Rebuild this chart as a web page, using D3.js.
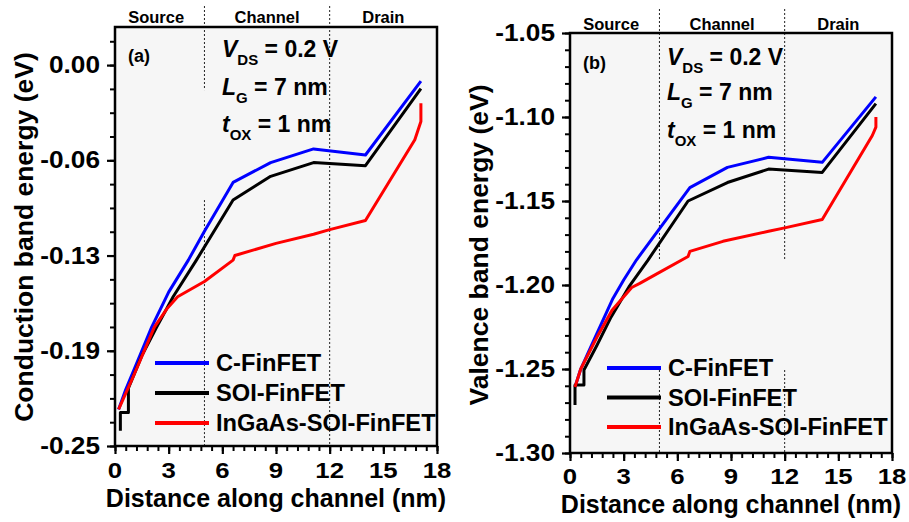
<!DOCTYPE html>
<html><head><meta charset="utf-8">
<script src="https://cdn.jsdelivr.net/npm/d3@7"></script>
<style>
body{margin:0;background:#fff}
text{font-family:"Liberation Sans",Arial,sans-serif;font-weight:bold;fill:#000}
</style>
</head><body>
<svg id="c" width="909" height="522"></svg>
<script>
// ---------- data ----------
const xTicks = [0, 3, 6, 9, 12, 15, 18];
const xTickLabels = ["0", "3", "6", "9", "12", "15", "18"];

const yTicksA = [0, -0.0625, -0.125, -0.1875, -0.25];
const yTickLabelsA = ["0.00", "-0.06", "-0.13", "-0.19", "-0.25"];
const yTicksB = [-1.05, -1.10, -1.15, -1.20, -1.25, -1.30];
const yTickLabelsB = ["-1.05", "-1.10", "-1.15", "-1.20", "-1.25", "-1.30"];

const seriesNames = ["C-FinFET", "SOI-FinFET", "InGaAs-SOI-FinFET"];
const seriesColors = ["#0000ff", "#000000", "#ff0000"];
const regionNames = ["Source", "Channel", "Drain"];
const regionCenters = [2.3, 8.5, 15];

// (a) conduction band energy (eV)
const cFinA = [[0.2,-0.226],[0.6,-0.213],[1.2,-0.196],[2.05,-0.172],[3.0,-0.149],[4.1,-0.128],[5.0,-0.109],[6.6,-0.077],[8.7,-0.064],[11.1,-0.055],[14.0,-0.059],[17.1,-0.0105]];
const soiA = [[0.3,-0.240],[0.3,-0.228],[0.75,-0.228],[0.75,-0.212],[1.49,-0.191],[2.33,-0.172],[3.25,-0.152],[4.55,-0.128],[6.6,-0.0886],[8.7,-0.073],[11.1,-0.064],[14.0,-0.066],[17.1,-0.0155]];
const ingaasA = [[0.2,-0.226],[1.0,-0.205],[2.2,-0.172],[2.9,-0.160],[3.5,-0.152],[5.0,-0.142],[6.6,-0.128],[6.7,-0.125],[9.0,-0.117],[11.1,-0.111],[12.0,-0.108],[14.0,-0.102],[16.76,-0.049],[17.1,-0.037],[17.1,-0.025]];

// (b) valence band energy (eV)
const cFinB = [[0.28,-1.2607],[0.6,-1.250],[1.2,-1.236],[1.8,-1.222],[2.4,-1.208],[3.0,-1.197],[3.72,-1.185],[6.7,-1.142],[8.8,-1.130],[11.1,-1.124],[14.1,-1.127],[17.1,-1.088]];
const soiB = [[0.28,-1.2714],[0.28,-1.2595],[0.78,-1.2595],[0.78,-1.2506],[1.5,-1.236],[2.3,-1.219],[3.3,-1.201],[4.37,-1.185],[6.6,-1.150],[8.8,-1.139],[11.1,-1.131],[14.1,-1.133],[17.1,-1.092]];
const ingaasB = [[0.28,-1.2607],[0.6,-1.250],[1.56,-1.230],[2.35,-1.215],[3.45,-1.2015],[3.9,-1.199],[4.75,-1.194],[6.6,-1.183],[6.7,-1.180],[8.55,-1.174],[11.1,-1.168],[12.0,-1.166],[14.1,-1.161],[16.9,-1.111],[17.1,-1.106],[17.1,-1.100]];

// dashed region boundary segments: [x, from value (null = above frame), to value]
const dashA = [[5, null, -0.0164], [5, -0.0886, -0.25], [12, null, -0.25]];
const dashB = [[5, null, -1.185], [5, -1.2506, -1.30], [12, null, -1.185], [12, -1.2506, -1.30]];

// ---------- drawing ----------
const svg = d3.select("#c");

function panel(cfg) {
  const g = svg.append("g");
  const x = d3.scaleLinear().domain([0, 18]).range([cfg.left, cfg.right]);
  const y = d3.scaleLinear().domain(cfg.yDomain).range([cfg.bottom, cfg.top]);

  g.append("rect").attr("x", cfg.left).attr("y", cfg.top)
    .attr("width", cfg.right - cfg.left).attr("height", cfg.bottom - cfg.top)
    .attr("fill", "#f6f6f6");

  // dashed boundaries
  cfg.dash.forEach(d => {
    g.append("line").attr("x1", x(d[0])).attr("x2", x(d[0]))
      .attr("y1", d[1] === null ? cfg.dashTop : y(d[1])).attr("y2", y(d[2]))
      .attr("stroke", "#222").attr("stroke-width", 1).attr("stroke-dasharray", "2,2");
  });

  // headers
  regionNames.forEach((n, i) => {
    g.append("text").attr("x", x(regionCenters[i])).attr("y", cfg.headerY)
      .attr("text-anchor", "middle").attr("font-size", 16.5).text(n);
  });

  // minor ticks
  const xMinor = d3.range(0, 18.001, 0.6);
  g.append("g").attr("transform", `translate(0,${cfg.bottom})`)
    .call(d3.axisBottom(x).tickValues(xMinor).tickSize(5).tickSizeOuter(0).tickFormat(""))
    .call(s => s.select(".domain").remove())
    .selectAll("line").attr("stroke-width", 2);
  const yMinor = d3.range(cfg.yDomain[0], cfg.yDomain[1] + 1e-9, cfg.minorStep);
  g.append("g").attr("transform", `translate(${cfg.left},0)`)
    .call(d3.axisLeft(y).tickValues(yMinor).tickSize(5).tickSizeOuter(0).tickFormat(""))
    .call(s => s.select(".domain").remove())
    .selectAll("line").attr("stroke-width", 2);
  // major ticks
  g.append("g").attr("transform", `translate(0,${cfg.bottom})`)
    .call(d3.axisBottom(x).tickValues(xTicks).tickSize(8).tickSizeOuter(0).tickFormat(""))
    .call(s => s.select(".domain").remove())
    .selectAll("line").attr("stroke-width", 2.2);
  g.append("g").attr("transform", `translate(${cfg.left},0)`)
    .call(d3.axisLeft(y).tickValues(cfg.yTicks).tickSize(8).tickSizeOuter(0).tickFormat(""))
    .call(s => s.select(".domain").remove())
    .selectAll("line").attr("stroke-width", 2.2);

  // tick labels
  xTicks.forEach((t, i) => {
    g.append("text").attr("transform", `translate(${x(t)},${cfg.xLabelY}) scale(1.12,1)`)
      .attr("text-anchor", "middle").attr("font-size", 23).text(xTickLabels[i]);
  });
  cfg.yTicks.forEach((t, i) => {
    g.append("text").attr("transform", `translate(${cfg.left - 15},${y(t) + 8}) scale(1.14,1)`)
      .attr("text-anchor", "end").attr("font-size", 23).text(cfg.yTickLabels[i]);
  });

  // curves
  const line = d3.line().x(d => x(d[0])).y(d => y(d[1]));
  cfg.series.forEach((s, i) => {
    g.append("path").datum(s).attr("d", line).attr("fill", "none")
      .attr("stroke", seriesColors[i]).attr("stroke-width", 3)
      .attr("stroke-linejoin", "round");
  });

  // frame
  g.append("rect").attr("x", cfg.left).attr("y", cfg.top)
    .attr("width", cfg.right - cfg.left).attr("height", cfg.bottom - cfg.top)
    .attr("fill", "none").attr("stroke", "#000").attr("stroke-width", 2.5);

  // legend
  seriesNames.forEach((n, i) => {
    const ly = cfg.legendY + i * cfg.legendGap;
    g.append("line").attr("x1", cfg.legendX).attr("x2", cfg.legendX + 54)
      .attr("y1", ly).attr("y2", ly).attr("stroke", seriesColors[i]).attr("stroke-width", 4);
    g.append("text").attr("transform", `translate(${cfg.legendX + 61},${ly + 8}) scale(1.03,1)`)
      .attr("font-size", 23).text(n);
  });

  // panel letter
  g.append("text").attr("x", cfg.letterX).attr("y", cfg.letterY).attr("font-size", 18).text(cfg.letter);

  // annotations
  const ann = [["V", "DS", " = 0.2 V"], ["L", "G", " = 7 nm"], ["t", "OX", " = 1 nm"]];
  ann.forEach((a, i) => {
    const t = g.append("text").attr("x", cfg.annX).attr("y", cfg.annY[i]).attr("font-size", 23);
    t.append("tspan").attr("font-style", "italic").text(a[0]);
    t.append("tspan").attr("font-size", 15).attr("dy", 8).text(a[1]);
    t.append("tspan").attr("dy", -8).text(a[2]);
  });

  // axis titles
  g.append("text").attr("x", (cfg.left + cfg.right) / 2).attr("y", cfg.xTitleY)
    .attr("text-anchor", "middle").attr("font-size", 25).text("Distance along channel (nm)");
  g.append("text").attr("transform", `translate(${cfg.yTitleX},${cfg.yTitleCY}) rotate(-90)`)
    .attr("text-anchor", "middle").attr("font-size", 26.5).text(cfg.yTitle);
}

panel({
  left: 115, right: 437, top: 27, bottom: 446, yDomain: [-0.25, 0.025],
  yTicks: yTicksA, yTickLabels: yTickLabelsA, minorStep: 0.015625,
  series: [cFinA, soiA, ingaasA], dash: dashA, dashTop: 6, headerY: 23,
  xLabelY: 478, xTitleY: 507, yTitleX: 33, yTitleCY: 237,
  yTitle: "Conduction band energy (eV)",
  legendX: 155, legendY: 363, legendGap: 30,
  letter: "(a)", letterX: 128, letterY: 62,
  annX: 222, annY: [57, 95, 132]
});

panel({
  left: 570, right: 892, top: 33, bottom: 453, yDomain: [-1.30, -1.05],
  yTicks: yTicksB, yTickLabels: yTickLabelsB, minorStep: 0.01,
  series: [cFinB, soiB, ingaasB], dash: dashB, dashTop: 9, headerY: 30,
  xLabelY: 484, xTitleY: 513, yTitleX: 488, yTitleCY: 245,
  yTitle: "Valence band energy (eV)",
  legendX: 607, legendY: 368, legendGap: 29.5,
  letter: "(b)", letterX: 583, letterY: 69,
  annX: 667, annY: [65, 100, 138]
});
</script>
</body></html>
